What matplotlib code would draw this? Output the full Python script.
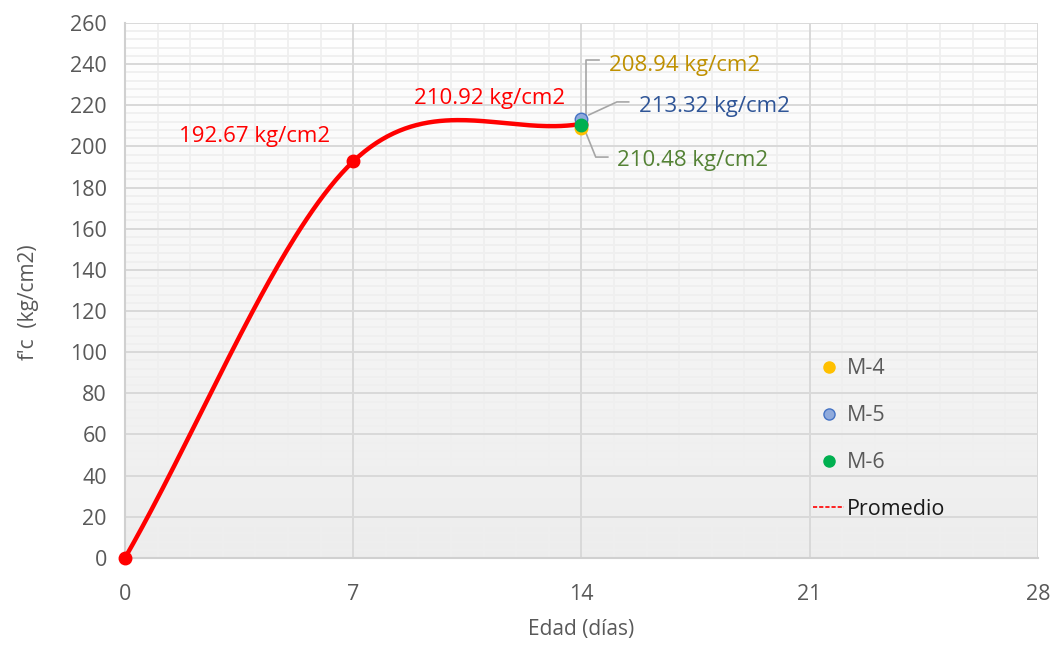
import numpy as np
import matplotlib
matplotlib.use("Agg")
import matplotlib.pyplot as plt
from matplotlib.lines import Line2D

plt.rcParams['font.family'] = ['Open Sans', 'DejaVu Sans']

# data
edad = [0, 7, 14]
promedio = [0, 192.67, 210.92]
muestras = ['M-4', 'M-5', 'M-6']
valores_14 = [208.94, 213.32, 210.48]
colores = ['#FFC000', '#8FAADC', '#00B050']
bordes = ['#FFC000', '#4472C4', '#00B050']
txt_colores = ['#BF9000', '#2F5597', '#548235']


def smooth(xs, ys, n=80):
    # excel-like smoothed line (bezier, catmull-rom control points,
    # reflected end points)
    P = np.column_stack([xs, ys]).astype(float)
    out = []
    t = np.linspace(0, 1, n)[:, None]
    for i in range(len(P) - 1):
        p1 = P[i]
        p2 = P[i + 1]
        p0 = P[i - 1] if i > 0 else 2 * P[0] - P[1]
        p3 = P[i + 2] if i + 2 < len(P) else 2 * P[-1] - P[-2]
        c1 = p1 + (p2 - p0) / 6
        c2 = p2 - (p3 - p1) / 6
        seg = ((1 - t) ** 3) * p1 + 3 * ((1 - t) ** 2) * t * c1 + 3 * (1 - t) * t ** 2 * c2 + t ** 3 * p2
        out.append(seg)
    out = np.vstack(out)
    return out[:, 0], out[:, 1]


fig = plt.figure(figsize=(10.59, 6.47), dpi=100)
ax = fig.add_axes([0.118, 0.1376, 0.862, 0.827])

ax.set_xlim(0, 28)
ax.set_ylim(0, 260)

# gradient background
grad = np.linspace(0, 1, 256)[:, None]
cm = matplotlib.colors.LinearSegmentedColormap.from_list('g', ['#EDEDED', '#FFFFFF'])
ax.imshow(grad, extent=[0, 28, 0, 260], aspect='auto', cmap=cm, origin='lower', zorder=0)

ax.set_xticks(np.arange(0, 29, 7))
ax.set_yticks(np.arange(0, 261, 20))
# minor grid drawn under the major one
minor_x = [d for d in range(29) if d % 7]
minor_y = [v for v in range(0, 261, 4) if v % 20]
ax.vlines(minor_x, 0, 260, color='#EFEFEF', lw=1.3, zorder=0.3)
ax.hlines(minor_y, 0, 28, color='#EFEFEF', lw=1.3, zorder=0.3)
ax.grid(which='major', color='#D9D9D9', lw=1.4)
ax.set_axisbelow(True)
for s in ['top', 'right']:
    ax.spines[s].set_visible(False)
for s in ['left', 'bottom']:
    ax.spines[s].set_color('#D0D0D0')
    ax.spines[s].set_linewidth(1.5)
ax.tick_params(which='both', length=0, labelsize=15.5, labelcolor='#595959')
ax.tick_params(axis='x', pad=19)
ax.tick_params(axis='y', pad=13)

ax.set_xlabel('Edad (días)', fontsize=15, color='#595959', labelpad=10)
ax.set_ylabel("f'c  (kg/cm2)", fontsize=15, color='#595959')
ax.yaxis.set_label_coords(-0.094, 0.478)

sx, sy = smooth(edad, promedio)
ax.plot(sx, sy, color='#FF0000', lw=3.2, zorder=3, clip_on=False)
ax.plot(edad, promedio, 'o', color='#FF0000', ms=9, zorder=4, clip_on=False)

for m, v, c, b in zip(muestras, valores_14, colores, bordes):
    ax.plot([14], [v], 'o', color=c, mec=b, mew=1, ms=9, zorder=5)

# labels
ax.text(3.98, 204.8, '%.2f kg/cm2' % promedio[1], color='#FF0000', fontsize=16, ha='center', va='center')
ax.text(11.17, 223.2, '%.2f kg/cm2' % promedio[2], color='#FF0000', fontsize=16, ha='center', va='center')

offs = [(14.84, 239.5), (15.76, 219.6), (15.09, 193.0)]
for v, c, (tx, ty) in zip(valores_14, txt_colores, offs):
    ax.text(tx, ty, '%.2f kg/cm2' % v, color=c, fontsize=16, ha='left', va='center', zorder=6)
# leader lines
ax.plot([14.13, 14.13, 14.53], [215.3, 242, 242], color='#A6A6A6', lw=1.2, zorder=4)
ax.plot([14.23, 15.09, 15.45], [215.3, 221.6, 221.6], color='#A6A6A6', lw=1.2, zorder=4)
ax.plot([14.08, 14.44, 14.81], [208.9, 194.8, 194.8], color='#A6A6A6', lw=1.2, zorder=4)

handles = [Line2D([], [], ls='none', marker='o', color=c, mec=b, ms=8) for c, b in zip(colores, bordes)]
handles.append(Line2D([], [], color='#FF0000', ls='--', lw=1.2, dashes=(2.5, 1.2)))
leg = ax.legend(handles, muestras + ['Promedio'], loc='center left', bbox_to_anchor=(0.733, 0.222),
                frameon=False, fontsize=15.5, labelspacing=1.2, handlelength=1.4, handletextpad=0.15)
for t in leg.get_texts():
    t.set_color('#595959')
leg.get_texts()[-1].set_color('#1A1A1A')

fig.savefig('out.png', dpi=100)
